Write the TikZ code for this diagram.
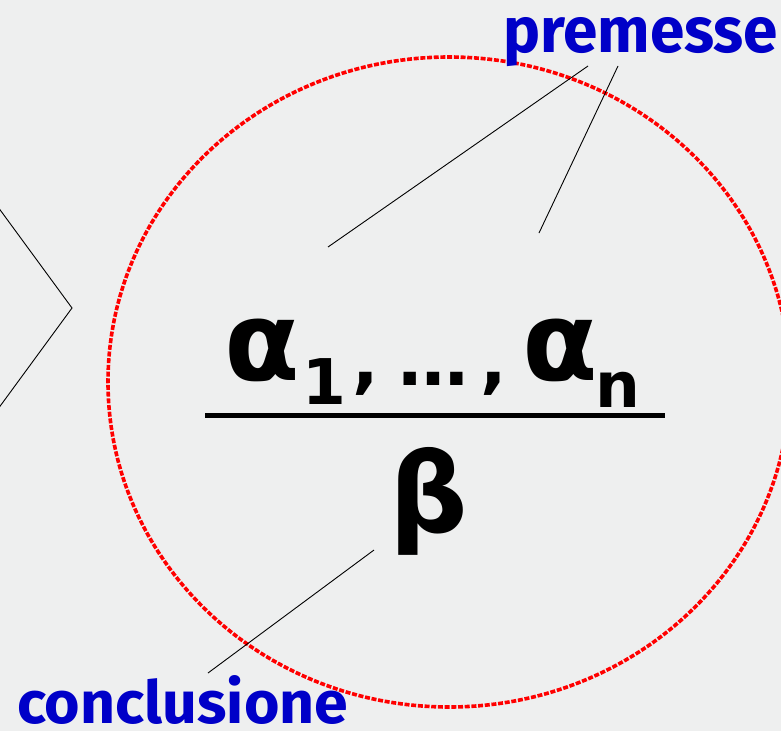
\documentclass[tikz,border=0pt]{standalone}
\usepackage{fontspec}
\newfontfamily\gk{DejaVu Sans}
\newfontfamily\lab{Fira Sans}
\definecolor{bg}{HTML}{EEEFEF}
\definecolor{lblue}{HTML}{0000C8}
\definecolor{dred}{HTML}{FF0000}
\tikzset{
  txt/.style={inner sep=0pt, outer sep=0pt, anchor=base west, text=black},
  big/.style={txt, font=\gk\bfseries\fontsize{110}{110}\selectfont},
  mid/.style={txt, font=\gk\bfseries\fontsize{70}{70}\selectfont},
  sub/.style={txt, font=\gk\bfseries\fontsize{63}{63}\selectfont},
  label/.style={inner sep=0pt, outer sep=0pt, anchor=base west, text=lblue, font=\lab\bfseries},
  pointer/.style={draw=black, line width=0.9pt},
  ring/.style={draw=dred, line width=3.6pt, dash pattern=on 5pt off 1.7pt},
}
\begin{document}
\begin{tikzpicture}[x=1pt,y=-1pt]
\fill[bg] (0,0) rectangle (781,731);
\useasboundingbox (0,0) rectangle (781,731);
% chevron
\coordinate (c1) at (-2,207);
\coordinate (c2) at (72,308);
\coordinate (c3) at (-2,409);
\draw[pointer] (c1) -- (c2) -- (c3);
% red ellipse
\coordinate (ctr) at (449,382);
\draw[ring] (ctr) ellipse [x radius=341, y radius=325];
% formula
\node[big] (a1) at (224,380) {α};
\node[sub] (s1) at (302,404) {1};
\node[mid] (k1) at (352,385) {,};
\node[mid] (dots) at (398,385) {…};
\node[mid] (k2) at (480,385) {,};
\node[big] (an) at (522,380) {α};
\node[sub] (sn) at (595,407) {n};
\coordinate (barL) at (205,415.5);
\coordinate (barR) at (665,415.5);
\draw[line width=4.5pt] (barL) -- (barR);
\node[txt, font=\gk\bfseries\fontsize{110}{110}\selectfont, anchor=base] (b) at (429,532) {β};
% labels
\node[label] (prem) at (503,52) {\resizebox{275pt}{35pt}{premesse}};
\node[label] (conc) at (17,723) {\resizebox{331pt}{48pt}{conclusione}};
% pointers
\coordinate (p1) at (588,66);
\coordinate (p1e) at (328,247);
\coordinate (p2) at (618,66);
\coordinate (p2e) at (539,233);
\coordinate (q1) at (374,550);
\coordinate (q1e) at (208,673);
\draw[pointer] (p1) -- (p1e);
\draw[pointer] (p2) -- (p2e);
\draw[pointer] (q1) -- (q1e);
\end{tikzpicture}
\end{document}
